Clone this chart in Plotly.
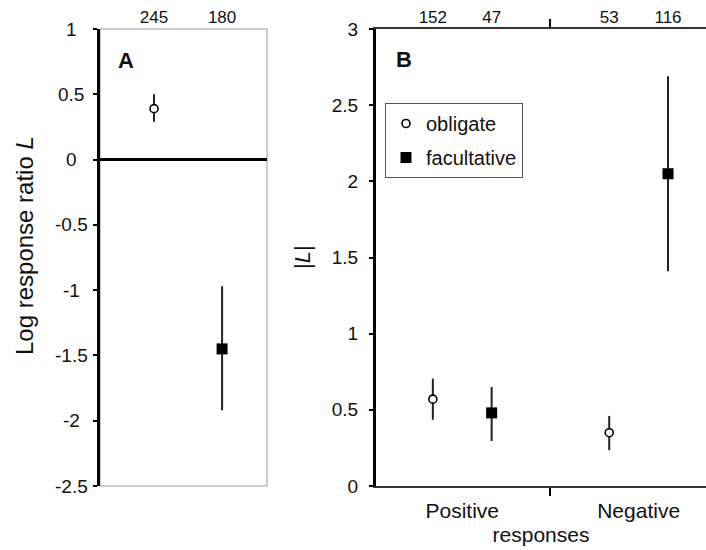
import plotly.graph_objects as go

# Panel A: log response ratio L by mutualism type
a_types = ["obligate", "facultative"]
a_mean = [0.39, -1.45]
a_low = [0.29, -1.92]
a_high = [0.50, -0.97]
a_n = ["245", "180"]
a_yticks = [1, 0.5, 0, -0.5, -1, -1.5, -2, -2.5]
a_yticklabels = ["1", "0.5", "0", "-0.5", "-1", "-1.5", "-2", "-2.5"]

# Panel B: |L| split by direction of the response
b_groups = ["Positive", "Negative"]
b_obl_mean = [0.57, 0.35]
b_obl_low = [0.435, 0.235]
b_obl_high = [0.705, 0.46]
b_fac_mean = [0.48, 2.05]
b_fac_low = [0.295, 1.41]
b_fac_high = [0.65, 2.69]
b_obl_n = ["152", "53"]
b_fac_n = ["47", "116"]
b_yticks = [0, 0.5, 1, 1.5, 2, 2.5, 3]

W, H = 706, 550
FONT = "Liberation Sans, Arial, sans-serif"
INK = "#111111"


def px_x(p):
    return p / W


def px_y(p):
    return (H - p) / H


dom_y = [px_y(486), px_y(29)]
dom_a = [px_x(100), px_x(267)]
dom_b = [px_x(376), 1.0]
range_a = [0.206, 2.66]
range_b = [0.511, 2.382]
off = 1 / 6

circle = dict(symbol="circle", size=8, color="white", line=dict(color="black", width=1.6))
square = dict(symbol="square", size=11, color="black", line=dict(color="black", width=0))


def err(mean, low, high):
    return dict(type="data", symmetric=False,
                array=[h - m for m, h in zip(mean, high)],
                arrayminus=[m - l for m, l in zip(mean, low)],
                color="#222222", thickness=2, width=0)


fig = go.Figure()

# Panel A markers (x axis on top carries the sample sizes)
fig.add_trace(go.Scatter(x=[1], y=[a_mean[0]], mode="markers", marker=circle,
                         error_y=err([a_mean[0]], [a_low[0]], [a_high[0]]),
                         xaxis="x", yaxis="y", showlegend=False, name=a_types[0]))
fig.add_trace(go.Scatter(x=[2], y=[a_mean[1]], mode="markers", marker=square,
                         error_y=err([a_mean[1]], [a_low[1]], [a_high[1]]),
                         xaxis="x", yaxis="y", showlegend=False, name=a_types[1]))

# Panel B markers
b_obl_x = [g - off for g in (1, 2)]
b_fac_x = [g + off for g in (1, 2)]
fig.add_trace(go.Scatter(x=b_obl_x, y=b_obl_mean, mode="markers", marker=circle,
                         error_y=err(b_obl_mean, b_obl_low, b_obl_high),
                         xaxis="x2", yaxis="y2", name="obligate", legendgroup="o"))
fig.add_trace(go.Scatter(x=b_fac_x, y=b_fac_mean, mode="markers", marker=square,
                         error_y=err(b_fac_mean, b_fac_low, b_fac_high),
                         xaxis="x2", yaxis="y2", name="facultative", legendgroup="f"))

# empty traces so the label-only overlay axes get drawn
for xa in ("x3", "x4"):
    fig.add_trace(go.Scatter(x=[], y=[], xaxis=xa, yaxis="y2", showlegend=False,
                             hoverinfo="skip"))

plain = dict(showgrid=False, zeroline=False, automargin=False, fixedrange=True)

fig.update_layout(
    template="none",
    width=W, height=H, autosize=False,
    margin=dict(l=0, r=0, t=0, b=0, pad=0),
    paper_bgcolor="white", plot_bgcolor="white",
    font=dict(family=FONT, size=19, color=INK),
    xaxis=dict(domain=dom_a, range=range_a, anchor="y", side="top", showline=False,
               tickvals=[1, 2], ticktext=a_n, ticks="", tickfont=dict(size=17),
               ticklabelstandoff=2, **plain),
    yaxis=dict(domain=dom_y, range=[-2.5, 1], anchor="x", tickvals=a_yticks,
               showticklabels=False, ticks="outside", ticklen=4, tickwidth=2,
               tickcolor="black", showline=True, linecolor="black", linewidth=3,
               showgrid=False, zeroline=True, zerolinecolor="black", zerolinewidth=2.5,
               automargin=False, fixedrange=True),
    xaxis2=dict(domain=dom_b, range=range_b, anchor="y2", showline=True, mirror="ticks",
                linecolor="#333333", linewidth=1.5, tickvals=[1.5], ticktext=[""],
                ticks="outside", ticklen=8, tickwidth=2, tickcolor="black", **plain),
    xaxis3=dict(domain=dom_b, range=range_b, anchor="y2", overlaying="x2", side="bottom",
                tickvals=[1, 2], ticktext=b_groups, ticks="", showline=False,
                tickfont=dict(size=21), ticklabelstandoff=10,
                title=dict(text="responses", font=dict(size=21), standoff=6), **plain),
    xaxis4=dict(domain=dom_b, range=range_b, anchor="y2", overlaying="x2", side="top",
                tickvals=b_obl_x + b_fac_x, ticktext=b_obl_n + b_fac_n, ticks="",
                showline=False, tickfont=dict(size=17), ticklabelstandoff=2, **plain),
    yaxis2=dict(domain=dom_y, range=[0, 3], anchor="x2", tickvals=b_yticks,
                ticks="outside", ticklen=4, tickwidth=2, tickcolor="black",
                showline=True, linecolor="black", linewidth=3, ticklabelstandoff=7,
                tickfont=dict(size=19), **plain),
    legend=dict(x=px_x(385), y=px_y(103), xanchor="left", yanchor="top",
                bgcolor="white", bordercolor="#555555", borderwidth=1,
                font=dict(size=20), tracegroupgap=5, traceorder="grouped"),
    shapes=[dict(type="rect", xref="x domain", yref="y domain", x0=0, x1=1, y0=0, y1=1,
                 line=dict(color="#999999", width=1), layer="below")],
)

ann = []
for v, t in zip(a_yticks, a_yticklabels):
    ann.append(dict(x=px_x(71), y=v, xref="paper", yref="y", text=t, showarrow=False,
                    xanchor="center", yanchor="middle", font=dict(size=19)))
ann.append(dict(x=px_x(24), y=px_y(246), xref="paper", yref="paper",
                text="Log response ratio <i>L</i>", textangle=-90, showarrow=False,
                xanchor="center", yanchor="middle", font=dict(size=24)))
ann.append(dict(x=px_x(302), y=px_y(257), xref="paper", yref="paper",
                text="|<i>L</i>|", textangle=-90, showarrow=False,
                xanchor="center", yanchor="middle", font=dict(size=22)))
ann.append(dict(x=px_x(126), y=px_y(60), xref="paper", yref="paper", text="<b>A</b>",
                showarrow=False, xanchor="center", yanchor="middle", font=dict(size=22)))
ann.append(dict(x=px_x(404), y=px_y(59), xref="paper", yref="paper", text="<b>B</b>",
                showarrow=False, xanchor="center", yanchor="middle", font=dict(size=22)))
fig.update_layout(annotations=ann)

fig.write_html("out.html")
